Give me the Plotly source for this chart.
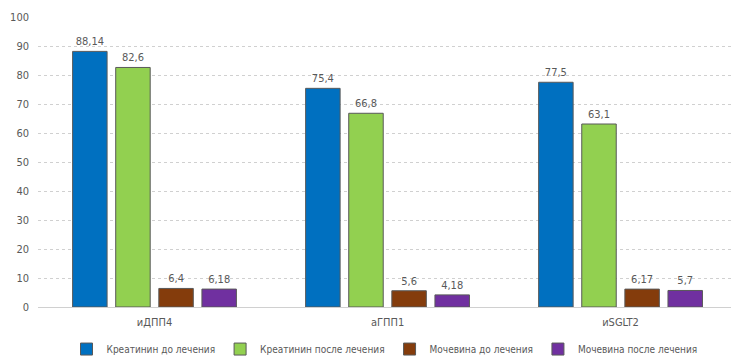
import plotly.graph_objects as go

categories = ["иДПП4", "аГПП1", "иSGLT2"]
series_names = ["Креатинин до лечения", "Креатинин после лечения", "Мочевина до лечения", "Мочевина после лечения"]
creat_before = [88.14, 75.4, 77.5]
creat_after = [82.6, 66.8, 63.1]
urea_before = [6.4, 5.6, 6.17]
urea_after = [6.18, 4.18, 5.7]
colors = ["#0070C0", "#92D050", "#843C0C", "#7030A0"]
y_ticks = [0, 10, 20, 30, 40, 50, 60, 70, 80, 90, 100]

FONT = "Liberation Sans Narrow, DejaVu Sans Condensed, Arial Narrow, sans-serif"

def fmt(v):
    return ("%g" % v).replace(".", ",")

fig = go.Figure()
for name, vals, col in zip(series_names, [creat_before, creat_after, urea_before, urea_after], colors):
    fig.add_trace(go.Bar(
        name=name, x=categories, y=vals,
        marker=dict(color=col, line=dict(color="#595959", width=1)),
        text=[fmt(v) for v in vals], textposition="outside",
        textfont=dict(color="#595959", size=11, family=FONT),
        cliponaxis=False,
    ))

fig.update_layout(
    width=731, height=356,
    margin=dict(l=38, r=0, t=17, b=49, autoexpand=False),
    paper_bgcolor="white", plot_bgcolor="white",
    barmode="group", bargap=0.26, bargroupgap=0.2,
    font=dict(family=FONT, size=11, color="#595959"),
    showlegend=True,
    legend=dict(orientation="h", x=0.5, xanchor="center", y=-0.145, yanchor="middle",
                font=dict(size=10, color="#595959", family=FONT), itemwidth=30,
                traceorder="normal"),
    xaxis=dict(range=[-0.5, 2.474], showline=False, ticks="", tickfont=dict(size=11),
               ticklabelstandoff=7),
    yaxis=dict(range=[0, 100], tickvals=y_ticks, showgrid=True, gridcolor="#D0D0D0",
               griddash="dot", gridwidth=1, zeroline=True, zerolinecolor="#D0D0D0",
               zerolinewidth=1, ticks="", ticklabelstandoff=8, tickfont=dict(size=11)),
)

fig.write_html("out.html")
